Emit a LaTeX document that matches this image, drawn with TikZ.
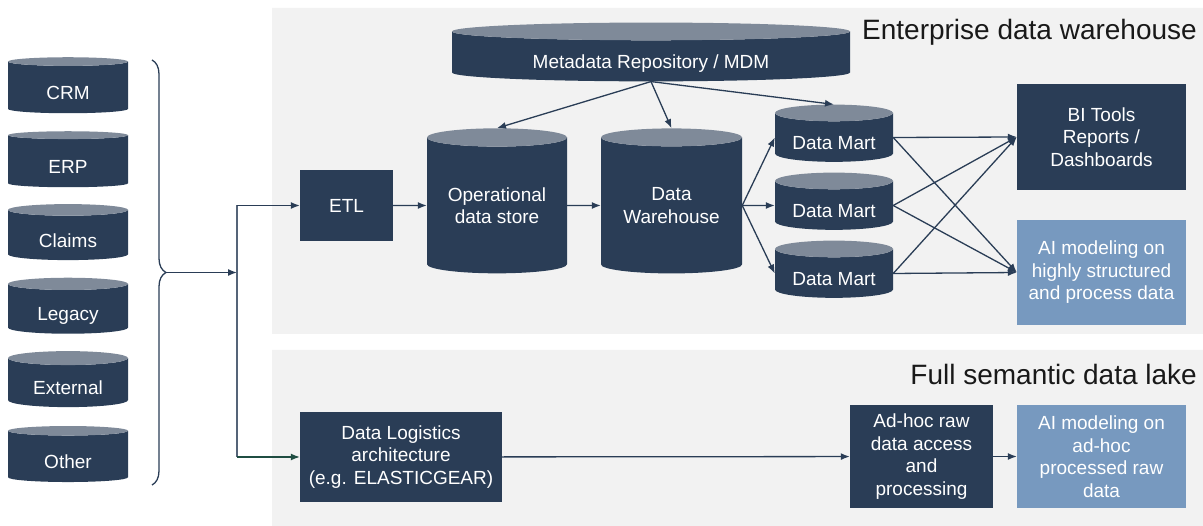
\documentclass[tikz,border=0pt]{standalone}
\usepackage{fontspec}
\setmainfont{Liberation Sans}
\usetikzlibrary{positioning,arrows.meta,shapes.geometric,decorations.pathreplacing}
\definecolor{navy}{HTML}{2A3D56}
\definecolor{dbtop}{HTML}{7F8A99}
\definecolor{aiblue}{HTML}{7799BF}
\definecolor{panel}{HTML}{F2F2F2}
\definecolor{lakegreen}{HTML}{1F4D42}
\def\panelEDW{(272,8) rectangle (1203,334)}
\def\panelLake{(272,350) rectangle (1203,526)}
\tikzset{
  txt/.style={text=white, font=\fontsize{19}{22.5}\selectfont, align=center, inner sep=0pt},
  db/.style={txt, cylinder, shape border rotate=90, cylinder uses custom fill,
    cylinder body fill=navy, cylinder end fill=dbtop, aspect=0.2},
  dbone/.style={db, text height=28pt, text depth=4pt},
  box/.style={txt, rectangle, fill=navy},
  aibox/.style={txt, rectangle, fill=aiblue},
  link/.style={draw=navy, line width=1.3pt, -{Latex[length=9pt,width=7pt]}},
  paneltitle/.style={font=\fontsize{28}{32}\selectfont, text=black!90, anchor=base east, inner sep=0pt}
}

\begin{document}
\begin{tikzpicture}[x=1pt,y=-1pt]
  \useasboundingbox (0,0) rectangle (1203,526);
  \fill[panel] \panelEDW \panelLake;
  \node[paneltitle] (edwtitle) at (1197,40) {Enterprise data warehouse};
  \node[paneltitle] (laketitle) at (1197,385) {Full semantic data lake};

  % sources
  \foreach \name/\lbl [count=\i] in {crm/CRM, erp/ERP, claims/Claims, legacy/Legacy, ext/External, other/Other}
    \node[dbone, minimum width=120, minimum height=56] (\name) at (68,13.7+73.8*\i) {\lbl};
  \draw[navy, line width=1.3pt, decorate, decoration={brace, amplitude=14pt}] (152,60) -- (152,485);
  \coordinate (brtip) at (166,272.5);
  \coordinate (split) at (237,272.5);

  % warehouse
  \node[dbone, minimum width=398, minimum height=53, aspect=0.075] (meta) at (651,56.5) {Metadata Repository / MDM};
  \node[box, minimum width=93, minimum height=71] (etl) at (346.5,205.5) {ETL};
  \node[db, minimum width=140, minimum height=145, aspect=0.186] (ods) at (497,205.5) {Operational\\data store};
  \node[db, minimum width=141, minimum height=145, aspect=0.186] (dw) at (671.5,205.5) {Data\\Warehouse};
  \foreach \i/\y in {1/137.5, 2/205.5, 3/273.5}
    \node[dbone, minimum width=118, minimum height=55] (dm\i) at (834,\y) {Data Mart};
  \node[box, minimum width=169, minimum height=106] (bi) at (1101.5,137) {BI Tools\\Reports /\\Dashboards};
  \node[aibox, minimum width=169, minimum height=105] (ai1) at (1101.5,272.5) {AI modeling on\\highly structured\\and process data};

  % lake
  \node[box, minimum width=202, minimum height=90] (dla) at (401,457) {Data Logistics\\architecture\\(e.g. ELASTICGEAR)};
  \node[box, minimum width=143, minimum height=103] (adhoc) at (921.5,456.5) {Ad-hoc raw\\data access\\and\\processing};
  \node[aibox, minimum width=169, minimum height=103] (ai2) at (1101.5,456.5) {AI modeling on\\ad-hoc\\processed raw\\data};

  % connectors
  \draw[link] (brtip) -- (split);
  \draw[navy!80, line width=1.3pt] (split |- etl.west) -- (split |- dla.west);
  \draw[link] (split |- etl.west) -- (etl);
  \draw[link, draw=lakegreen] (split |- dla.west) -- (dla);
  \draw[link] (etl) -- (ods);
  \draw[link] (ods) -- (dw);
  \foreach \t in {ods, dw, dm1}
    \draw[link] (meta.south) -- (\t.north);
  \foreach \i in {1,2,3} {
    \draw[link] (dw.east) -- (dm\i.west);
    \draw[link] (dm\i.east) -- (bi.west);
    \draw[link] (dm\i.east) -- (ai1.west);
  }
  \draw[link] (dla) -- (adhoc);
  \draw[link] (adhoc) -- (ai2);
\end{tikzpicture}
\end{document}
